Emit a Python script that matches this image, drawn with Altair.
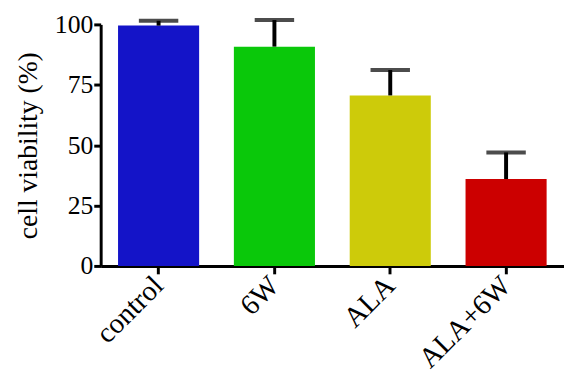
import altair as alt
import pandas as pd

categories = ["control", "6W", "ALA", "ALA+6W"]
means = [99.5, 90.8, 70.6, 36.0]
errors = [2.0, 11.0, 10.5, 11.0]
colors = ["#1414c8", "#0ac80a", "#cdcb0a", "#cc0000"]

df = pd.DataFrame({"group": categories, "mean": means, "err": errors})
df["upper"] = df["mean"] + df["err"]

FONT = "Liberation Serif"

x_enc = alt.X("group:N", sort=categories, title=None,
              scale=alt.Scale(paddingInner=0.3, paddingOuter=0.15),
              axis=alt.Axis(labelAngle=-45, labelAlign="right", labelBaseline="middle",
                            labelFontSize=29, labelFont=FONT, labelColor="black",
                            tickSize=8, tickWidth=3, tickColor="black",
                            domainWidth=3, domainColor="black", labelPadding=7))
y_scale = alt.Scale(domain=[0, 100], nice=False, zero=True)

bars = alt.Chart(df).mark_bar().encode(
    x=x_enc,
    y=alt.Y("mean:Q", scale=y_scale, title="cell viability (%)",
            axis=alt.Axis(values=[0, 25, 50, 75, 100], grid=False,
                          labelFontSize=26, labelFont=FONT, labelColor="black",
                          titleFontSize=28, titleFont=FONT, titleFontWeight="normal",
                          titleColor="black", titlePadding=12,
                          tickSize=7, tickWidth=3, tickColor="black",
                          domainWidth=3, domainColor="black", labelPadding=1)),
    color=alt.Color("group:N", scale=alt.Scale(domain=categories, range=colors), legend=None),
)

err_line = alt.Chart(df).mark_rule(color="black", strokeWidth=4, clip=False).encode(
    x=alt.X("group:N", sort=categories),
    y=alt.Y("mean:Q", scale=y_scale),
    y2="upper:Q",
)

err_cap = alt.Chart(df).mark_tick(color="black", thickness=4, size=40,
                                  orient="horizontal", clip=False).encode(
    x=alt.X("group:N", sort=categories),
    y=alt.Y("upper:Q", scale=y_scale),
)

chart = alt.layer(bars, err_line, err_cap).properties(
    width=470, height=245,
    autosize=alt.AutoSizeParams(type="none"),
    padding={"left": 94, "top": 14, "right": 0, "bottom": 109},
    background="white",
).configure_view(stroke=None)

chart.save("out.html", embed_options={"renderer": "svg", "actions": False})
